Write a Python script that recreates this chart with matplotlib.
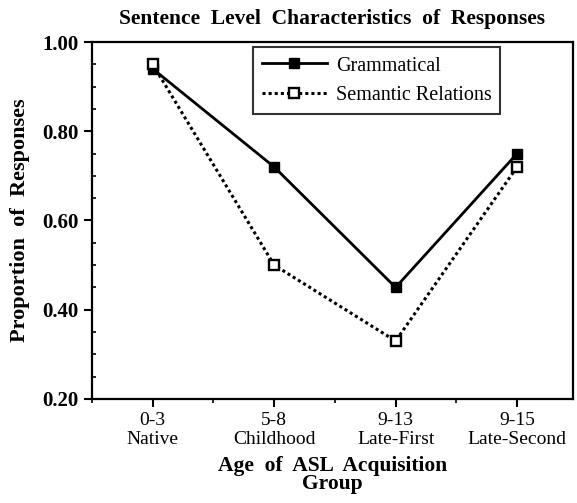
import matplotlib.pyplot as plt
from matplotlib.ticker import MultipleLocator

# data
groups = ["0-3\nNative", "5-8\nChildhood", "9-13\nLate-First", "9-15\nLate-Second"]
grammatical = [0.94, 0.72, 0.45, 0.75]
semantic = [0.95, 0.50, 0.33, 0.72]

plt.rcParams['font.family'] = ['Liberation Serif', 'DejaVu Serif']

fig = plt.figure(figsize=(5.77, 5.03), dpi=100)
ax = fig.add_axes([0.1594, 0.2068, 0.8336, 0.7097])

x = list(range(1, len(groups) + 1))
ax.plot(x, grammatical, color='black', linewidth=2.0, marker='s', markersize=6.5,
        markerfacecolor='black', markeredgecolor='black', label='Grammatical', zorder=3)
ax.plot(x, semantic, color='black', linewidth=2.2, linestyle=(0, (1, 1)), marker='s',
        markersize=6.5, markerfacecolor='white', markeredgecolor='black', markeredgewidth=1.7,
        label='Semantic Relations', zorder=4)

ax.set_xlim(0.5, 4.46)
ax.set_ylim(0.2, 1.0)
ax.set_xticks(x)
ax.set_xticklabels(groups, fontsize=14, linespacing=1.15)
ax.xaxis.set_minor_locator(MultipleLocator(0.5))
ax.yaxis.set_major_locator(MultipleLocator(0.2))
ax.yaxis.set_minor_locator(MultipleLocator(0.05))
ax.set_yticklabels([f"{v:.2f}" for v in ax.get_yticks()], fontsize=15, fontweight='bold')

for s in ax.spines.values():
    s.set_linewidth(1.6)
ax.tick_params(which='major', length=6, width=1.5, direction='out')
ax.tick_params(which='minor', length=3, width=1.2, direction='out')
ax.tick_params(axis='y', which='minor', direction='in')

ax.set_title("Sentence  Level  Characteristics  of  Responses", fontsize=15.5,
             fontweight='bold', pad=13)
ax.set_ylabel("Proportion  of  Responses", fontsize=16, fontweight='bold', labelpad=9)
ax.set_xlabel("Age  of  ASL  Acquisition\nGroup", fontsize=15.5, fontweight='bold',
              labelpad=6, linespacing=0.85)

leg = ax.legend(loc='upper left', bbox_to_anchor=(0.335, 0.985), fontsize=14.5,
                frameon=True, fancybox=False, handlelength=3.2, borderpad=0.45,
                borderaxespad=0, labelspacing=0.5, handletextpad=0.45)
leg.get_frame().set_edgecolor('black')
leg.get_frame().set_linewidth(1.5)

fig.savefig("out.png", dpi=100)
